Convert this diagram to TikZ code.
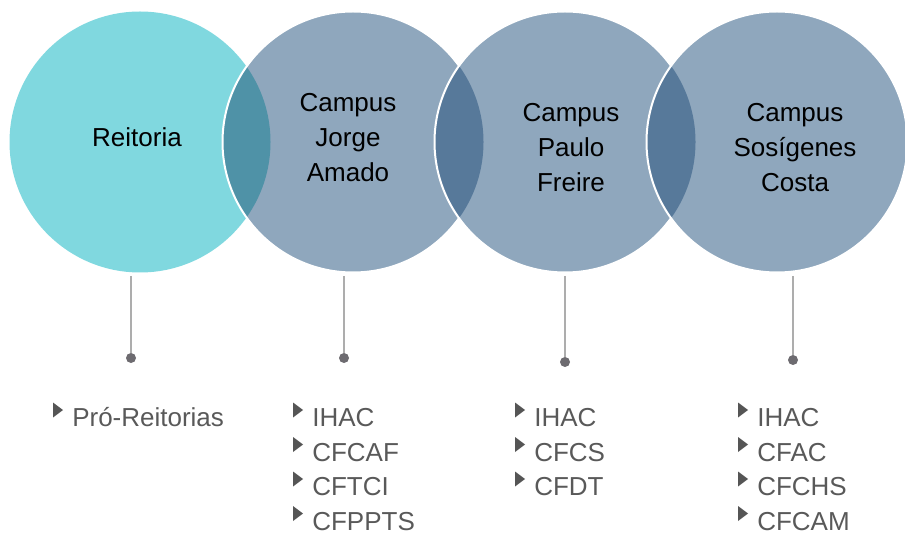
\documentclass[tikz,border=0pt]{standalone}
\usepackage{fontspec}
\setmainfont{Liberation Sans}
\usetikzlibrary{positioning}

\definecolor{reitcyan}{HTML}{80D8DF}
\definecolor{campusblue}{HTML}{8FA7BD}
\definecolor{lensteal}{HTML}{4F92A7}
\definecolor{lensblue}{HTML}{57799A}
\definecolor{stemgray}{HTML}{ADADAD}
\definecolor{dotgray}{HTML}{6D6B70}
\definecolor{itemgray}{HTML}{595959}
\definecolor{bulletgray}{HTML}{555555}

\newcommand{\rad}{97.875pt}

\tikzset{
    sphere/.style={circle, minimum size=195.75pt, inner sep=0pt},
    rim/.style={draw=white, line width=1.5pt},
    hub/.style={inner sep=0pt, font=\fontsize{19.5}{26.25}\selectfont},
    stem/.style={draw=stemgray, line width=1.5pt},
    pindot/.style={circle, fill=dotgray, minimum size=7.5pt, inner sep=0pt},
    entry/.style={anchor=base west, inner sep=0pt, text depth=0pt, text=itemgray,
        font=\fontsize{19.5}{26}\selectfont},
}

\begin{document}
\begin{tikzpicture}[x=0.75pt, y=-0.75pt]
    \useasboundingbox (0,0) rectangle (905,534);

    % circles, each one laid over the one before
    \node[sphere, fill=reitcyan] (reitoria) at (140,142) {};
    \foreach \prev/\cur/\cx/\shade in {reitoria/jorge/353/lensteal,
                                       jorge/paulo/565/lensblue,
                                       paulo/sosigenes/777/lensblue} {
        \node[sphere, fill=campusblue] (\cur) at (\cx,142) {};
        \begin{scope}
            \clip (\prev.center) circle[radius=\rad];
            \fill[\shade] (\cur.center) circle[radius=\rad];
        \end{scope}
        \draw[rim] (\cur.center) circle[radius=\rad];
    }

    % circle labels
    \node[hub, anchor=base] at ([shift={(-3,5)}]reitoria.center) {Reitoria};
    \node[hub, anchor=base] at ([shift={(-5,-30)}]jorge.center)
        {\begin{tabular}[t]{@{}c@{}}Campus\\Jorge\\Amado\end{tabular}};
    \node[hub, anchor=base] at ([shift={(6,-20)}]paulo.center)
        {\begin{tabular}[t]{@{}c@{}}Campus\\Paulo\\Freire\end{tabular}};
    \node[hub, anchor=base] at ([shift={(18,-20)}]sosigenes.center)
        {\begin{tabular}[t]{@{}c@{}}Campus\\Sosígenes\\Costa\end{tabular}};

    % stems with end dots
    \foreach \hub/\sx/\dy in {reitoria/131/358, jorge/344/358,
                              paulo/565/362, sosigenes/793/360} {
        \coordinate (\hub-top) at (\sx,276);
        \node[pindot] (\hub-dot) at (\sx,\dy) {};
        \draw[stem] (\hub-top) -- (\hub-dot);
    }

    % lists of units
    \foreach \unit [count=\i] in {Pró-Reitorias} {
        \node[entry] (reitoria-\i) at (72,{426.5+34.5*(\i-1)}) {\unit};
        \fill[bulletgray, shift={(reitoria-\i.base west)}]
            (-19,-24) -- (-9,-16.5) -- (-19,-9) -- cycle;
    }
    \foreach \unit [count=\i] in {IHAC,CFCAF,CFTCI,CFPPTS} {
        \node[entry] (jorge-\i) at (312,{426.5+34.5*(\i-1)}) {\unit};
        \fill[bulletgray, shift={(jorge-\i.base west)}]
            (-19,-24) -- (-9,-16.5) -- (-19,-9) -- cycle;
    }
    \foreach \unit [count=\i] in {IHAC,CFCS,CFDT} {
        \node[entry] (paulo-\i) at (534,{426.5+34.5*(\i-1)}) {\unit};
        \fill[bulletgray, shift={(paulo-\i.base west)}]
            (-19,-24) -- (-9,-16.5) -- (-19,-9) -- cycle;
    }
    \foreach \unit [count=\i] in {IHAC,CFAC,CFCHS,CFCAM} {
        \node[entry] (sosigenes-\i) at (757,{426.5+34.5*(\i-1)}) {\unit};
        \fill[bulletgray, shift={(sosigenes-\i.base west)}]
            (-19,-24) -- (-9,-16.5) -- (-19,-9) -- cycle;
    }
\end{tikzpicture}
\end{document}
